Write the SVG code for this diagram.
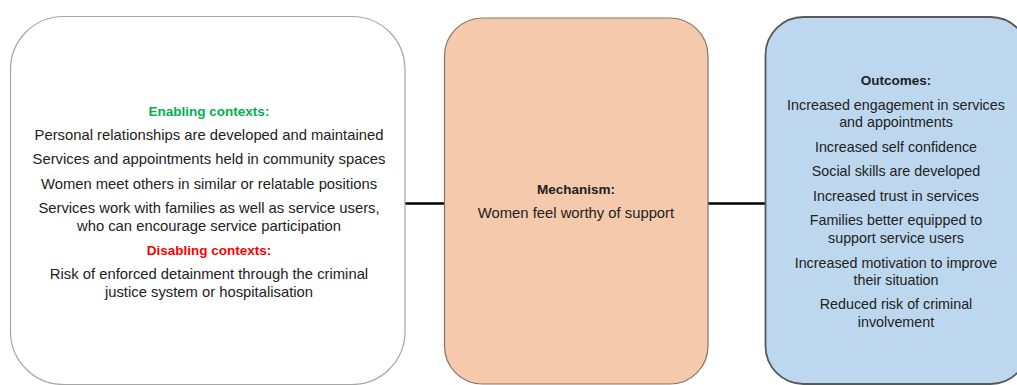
<svg xmlns="http://www.w3.org/2000/svg" width="1017" height="385" viewBox="0 0 1017 385">
<style>
text{font-family:"Liberation Sans",Arial,sans-serif;font-size:14.3px;fill:#222;text-anchor:middle}
.w{font-size:14.8px}
.h{font-weight:bold;font-size:13.5px}
.g{fill:#00B050}
.r{fill:#FF0000}
.k{fill:#222}
.conn{stroke:#000;stroke-width:2.5;fill:none}
</style>
<rect width="1017" height="385" fill="#fff"/>
<g id="connectors">
<line class="conn" x1="405" y1="203.5" x2="444" y2="203.5"/>
<line class="conn" x1="708" y1="203.5" x2="765" y2="203.5"/>
</g>
<g id="contexts">
<rect x="10.5" y="16.5" width="394.5" height="368" rx="53" ry="53" fill="#fff" stroke="#a6a6a6" stroke-width="1.2"/>
<text class="h g" x="209" y="116">Enabling contexts:</text>
<text class="w" x="209" y="139.5">Personal relationships are developed and maintained</text>
<text class="w" x="209" y="163.5">Services and appointments held in community spaces</text>
<text class="w" x="209" y="188.5">Women meet others in similar or relatable positions</text>
<text class="w" x="209" y="212.5">Services work with families as well as service users,</text>
<text class="w" x="209" y="230.5">who can encourage service participation</text>
<text class="h r" x="209" y="254.5">Disabling contexts:</text>
<text class="w" x="209" y="278.5">Risk of enforced detainment through the criminal</text>
<text class="w" x="209" y="296.5">justice system or hospitalisation</text>
</g>
<g id="mechanism">
<rect x="444.5" y="18" width="263.5" height="366" rx="38" ry="38" fill="#F5C9AB" stroke="#857468" stroke-width="1.2"/>
<text class="h k" x="576" y="194">Mechanism:</text>
<text class="w" x="576" y="218">Women feel worthy of support</text>
</g>
<g id="outcomes">
<rect x="765.5" y="17" width="263" height="367" rx="38" ry="38" fill="#BDD7EE" stroke="#595959" stroke-width="1.8"/>
<text class="h k" x="896" y="85">Outcomes:</text>
<text x="896" y="109.5">Increased engagement in services</text>
<text x="896" y="127">and appointments</text>
<text x="896" y="151.5">Increased self confidence</text>
<text x="896" y="175.5">Social skills are developed</text>
<text x="896" y="200.5">Increased trust in services</text>
<text x="896" y="224.5">Families better equipped to</text>
<text x="896" y="242.5">support service users</text>
<text x="896" y="267.5">Increased motivation to improve</text>
<text x="896" y="285">their situation</text>
<text x="896" y="308.5">Reduced risk of criminal</text>
<text x="896" y="326.5">involvement</text>
</g>
</svg>
